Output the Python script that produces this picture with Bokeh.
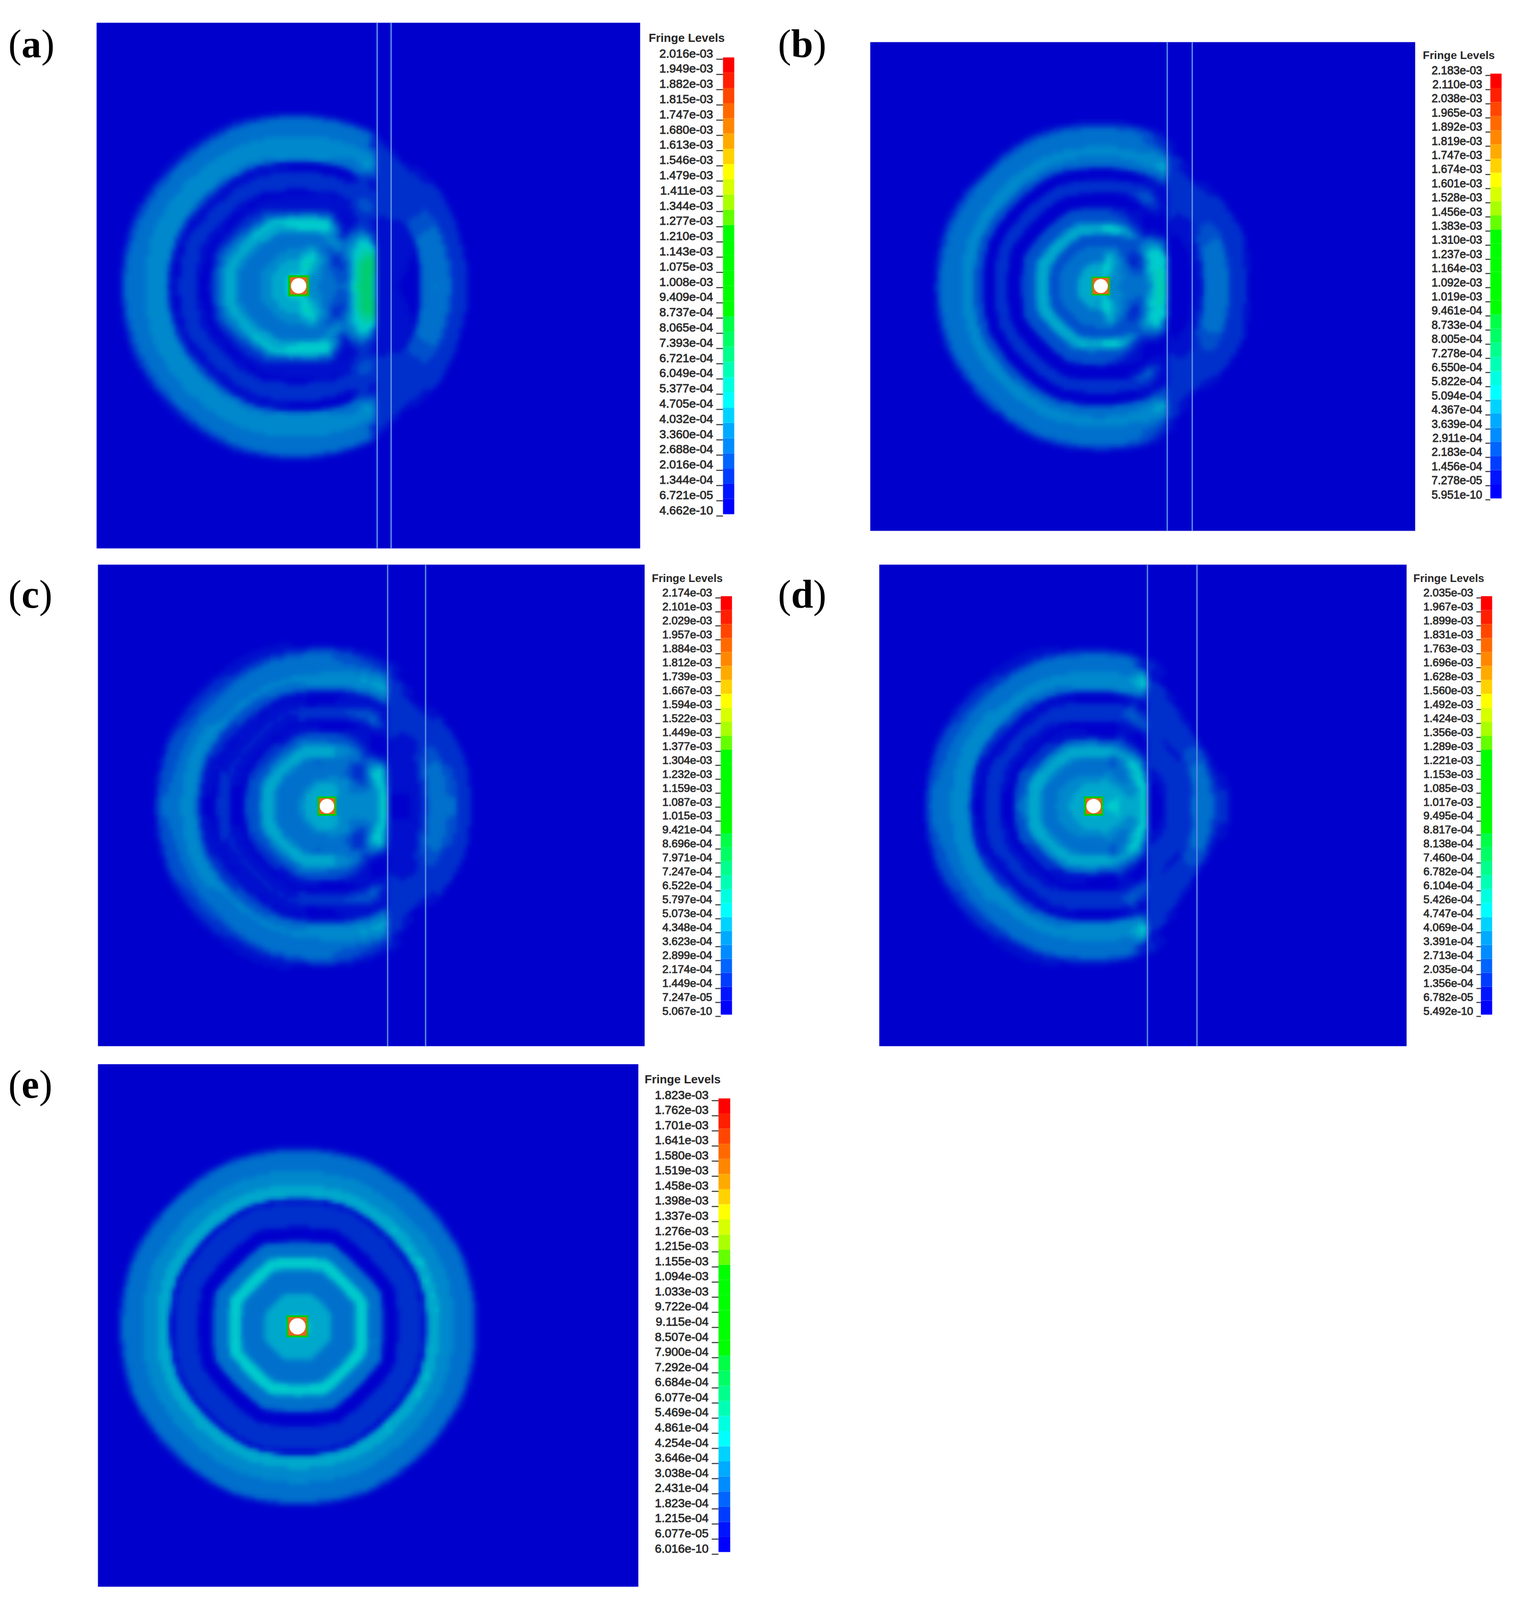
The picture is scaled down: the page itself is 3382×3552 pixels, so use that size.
import numpy as np
from bokeh.embed import file_html
from bokeh.models import Range1d
from bokeh.plotting import figure
from bokeh.resources import INLINE
from bokeh.core.properties import value

# Fringe level tick labels (top to bottom).
LABELS_A = "2.016e-03 1.949e-03 1.882e-03 1.815e-03 1.747e-03 1.680e-03 1.613e-03 1.546e-03 1.479e-03 1.411e-03 1.344e-03 1.277e-03 1.210e-03 1.143e-03 1.075e-03 1.008e-03 9.409e-04 8.737e-04 8.065e-04 7.393e-04 6.721e-04 6.049e-04 5.377e-04 4.705e-04 4.032e-04 3.360e-04 2.688e-04 2.016e-04 1.344e-04 6.721e-05 4.662e-10".split()
LABELS_B = "2.183e-03 2.110e-03 2.038e-03 1.965e-03 1.892e-03 1.819e-03 1.747e-03 1.674e-03 1.601e-03 1.528e-03 1.456e-03 1.383e-03 1.310e-03 1.237e-03 1.164e-03 1.092e-03 1.019e-03 9.461e-04 8.733e-04 8.005e-04 7.278e-04 6.550e-04 5.822e-04 5.094e-04 4.367e-04 3.639e-04 2.911e-04 2.183e-04 1.456e-04 7.278e-05 5.951e-10".split()
LABELS_C = "2.174e-03 2.101e-03 2.029e-03 1.957e-03 1.884e-03 1.812e-03 1.739e-03 1.667e-03 1.594e-03 1.522e-03 1.449e-03 1.377e-03 1.304e-03 1.232e-03 1.159e-03 1.087e-03 1.015e-03 9.421e-04 8.696e-04 7.971e-04 7.247e-04 6.522e-04 5.797e-04 5.073e-04 4.348e-04 3.623e-04 2.899e-04 2.174e-04 1.449e-04 7.247e-05 5.067e-10".split()
LABELS_D = "2.035e-03 1.967e-03 1.899e-03 1.831e-03 1.763e-03 1.696e-03 1.628e-03 1.560e-03 1.492e-03 1.424e-03 1.356e-03 1.289e-03 1.221e-03 1.153e-03 1.085e-03 1.017e-03 9.495e-04 8.817e-04 8.138e-04 7.460e-04 6.782e-04 6.104e-04 5.426e-04 4.747e-04 4.069e-04 3.391e-04 2.713e-04 2.035e-04 1.356e-04 6.782e-05 5.492e-10".split()
LABELS_E = "1.823e-03 1.762e-03 1.701e-03 1.641e-03 1.580e-03 1.519e-03 1.458e-03 1.398e-03 1.337e-03 1.276e-03 1.215e-03 1.155e-03 1.094e-03 1.033e-03 9.722e-04 9.115e-04 8.507e-04 7.900e-04 7.292e-04 6.684e-04 6.077e-04 5.469e-04 4.861e-04 4.254e-04 3.646e-04 3.038e-04 2.431e-04 1.823e-04 1.215e-04 6.077e-05 6.016e-10".split()

# Legend colours, bottom to top.
BAR_RGB = [(0,0,255),(0,20,255),(0,60,255),(0,100,255),(0,140,255),(0,170,255),(0,210,255),(0,255,255),
           (0,255,225),(0,255,180),(0,255,140),(0,255,100),(0,255,70),(0,255,0),(0,255,0),(0,255,0),
           (0,255,0),(0,255,0),(0,255,0),(100,255,0),(170,255,0),(215,255,0),(255,255,0),(255,210,0),
           (255,170,0),(255,135,0),(255,105,0),(255,70,0),(255,30,0),(255,0,0)]

# Fringe level (0-29) against distance from the source, read along rays of the picture.
# Each ray: angle from +x -> [(radius in crop units, level), ...].  Field is mirrored about the axis.
A_LEFT = {
 0:  [(0,6),(60,5),(100,4),(170,3.5),(210,4),(228,7),(250,9.5),(300,10.3),(320,8),(335,6)],
 20: [(0,6),(70,5),(110,4.5),(150,3.5),(190,2.5),(220,3.5),(245,7),(270,9.5),(315,10),(340,8),(360,6)],
 35: [(0,6),(90,5),(150,3.5),(190,1.5),(225,3),(265,5),(310,7),(350,6),(385,2),(410,1)],
 50: [(0,6),(60,6),(100,6),(150,5.5),(200,3),(240,5.5),(265,3),(300,1),(350,.4),(395,2),(445,3.6),(490,2),(520,1.5)],
 60: [(0,7),(100,7),(150,5.5),(200,3.5),(250,5.5),(285,6),(310,2.5),(345,.4),(395,.8),(440,2),(500,1.5),(540,2.5),(590,6),(625,5),(665,3)],
 65: [(0,7),(60,7),(105,8.5),(150,6.5),(190,4),(225,4),(250,7),(285,7.5),(310,4),(340,1),(400,.5),(425,2),(470,2),(490,.5),(525,.5),(540,4),(625,5),(645,4),(705,3.6),(735,0)],
 90: [(0,7),(60,6.5),(100,6),(140,5),(175,4),(225,4),(240,6.5),(285,7),(300,4),(330,1),(400,.4),(420,2),(478,2),(495,.4),(525,.5),(538,5),(630,5),(650,4),(710,3.8),(745,0)],
 180:[(0,7),(60,6.5),(100,6),(140,5),(185,4),(250,4),(280,6),(315,6),(350,3.5),(385,.4),(425,.4),(445,2),(500,2),(525,.3),(550,1),(565,5),(650,5),(665,4),(735,3.8),(770,0)],
}
A_RIGHT = {
 0:  [(0,1),(400,1),(420,.5),(510,.3),(522,4),(590,4.6),(605,4),(640,3.8),(660,2),(710,2),(735,0)],
 20: [(0,1),(420,.7),(515,.5),(530,3.8),(610,4),(630,3.8),(650,2),(700,2),(725,0)],
 35: [(0,1),(440,1),(480,1.5),(560,2),(710,2),(735,0)],
 50: [(0,1.6),(520,2),(670,2),(700,0)],
 65: [(0,2),(700,2),(730,0)],
 180:[(0,2),(700,2),(730,0)],
}
B_LEFT = {
 0:  [(0,5.5),(60,5),(90,4),(158,4),(218,4.5),(232,6.5),(250,8.5),(280,8.5),(290,7)],
 20: [(0,5.5),(60,5),(100,4.5),(150,3.5),(190,3.2),(212,6.5),(260,7.5),(300,6.5),(310,4)],
 35: [(0,5.5),(90,5),(150,3),(180,1),(215,2.5),(245,6.5),(300,6.5),(335,3),(355,1)],
 50: [(0,5.5),(80,5.5),(140,4.5),(180,2.5),(230,2.5),(270,3),(320,.3),(345,.2),(400,.5),(450,.5)],
 62: [(0,6),(60,6.5),(120,6),(180,3),(230,3.5),(260,6),(280,3),(320,.8),(380,.4),(425,3.8),(460,2),(500,.5),(530,3),(585,6),(625,5),(660,2),(700,0)],
 75: [(0,7),(50,7),(95,7.5),(150,6),(185,3.5),(225,3.5),(240,6.5),(265,7),(285,3.5),(340,1.5),(355,.3),(410,.3),(420,1.8),(467,1.8),(475,.3),(515,.3),(530,4),(600,5),(630,4),(700,3.4),(735,0)],
 90: [(0,7),(45,5.5),(100,5.5),(115,4),(175,4),(185,3),(222,3),(240,6.5),(265,6.5),(285,3.5),(340,3),(355,.3),(407,.3),(418,1.8),(467,1.8),(475,.3),(515,.3),(530,3.5),(600,5),(635,4),(695,3.6),(735,0)],
 180:[(0,7),(45,5.5),(100,5.5),(115,4),(175,4),(185,3),(222,3),(240,6.5),(278,6.5),(295,3.5),(345,3),(355,.3),(407,.3),(418,1.8),(467,1.8),(475,.3),(517,.3),(527,2.5),(558,3),(567,5),(605,5),(637,3.6),(707,3.6),(745,0)],
}
B_RIGHT = {
 0:  [(0,.3),(400,.5),(450,1.5),(460,3.8),(558,4),(568,2),(630,2),(650,0)],
 20: [(0,.3),(400,.5),(450,2),(465,3.8),(555,3.8),(575,2),(650,2),(675,0)],
 35: [(0,.5),(400,.5),(470,1),(500,2),(640,2),(668,0)],
 50: [(0,.5),(420,2),(600,2),(630,0)],
 60: [(0,1.5),(560,2),(650,2),(670,0)],
 65: [(0,2),(600,2),(690,1.5),(720,0)],
 180:[(0,2),(600,2),(690,1.5),(720,0)],
}
C_LEFT = {
 0:  [(0,5.5),(60,5),(150,5),(225,4.5),(240,6.5),(262,8.8),(278,7)],
 20: [(0,5.5),(100,5),(170,4.5),(210,4.5),(230,6),(255,7),(295,4)],
 35: [(0,5.5),(90,5),(150,3.5),(190,2.5),(225,4),(250,7),(300,6.5),(335,1),(345,.5)],
 50: [(0,5.5),(80,5.5),(140,5),(190,1.5),(225,1.5),(265,3),(320,.3),(360,.2),(420,.5),(440,.8)],
 62: [(0,6),(60,6),(120,5),(170,3.5),(220,3.5),(250,4.5),(280,3.5),(330,.8),(385,.5),(430,3.8),(470,2),(510,.5),(530,3.5),(585,6),(625,5),(660,2),(700,0)],
 90: [(0,7),(46,6.5),(90,6),(130,4.5),(165,3.5),(215,3.5),(225,6),(272,6),(290,3.5),(330,3),(340,.3),(387,.3),(397,1.8),(447,1.8),(457,.3),(507,.3),(525,2.5),(547,5),(592,5),(615,3.8),(690,3.6),(735,0)],
 180:[(0,7),(46,5.5),(116,5.5),(130,4),(176,3.5),(226,3.5),(248,6),(291,6),(310,3.5),(366,3),(376,.3),(436,.3),(446,1.8),(496,1.8),(506,.3),(566,.3),(580,2.5),(601,5),(651,5),(675,3.8),(751,3.6),(790,0)],
}
C_RIGHT = {
 0:  [(0,.2),(370,.3),(420,1.5),(450,2.5),(462,3.8),(578,3.8),(590,2),(640,2),(660,0)],
 20: [(0,.5),(380,.8),(420,1.5),(465,3.8),(535,3.8),(550,2.5),(640,2),(668,0)],
 35: [(0,.5),(440,.5),(480,1),(510,2),(640,2),(660,0)],
 50: [(0,1),(420,1.8),(590,2),(618,0)],
 60: [(0,1.5),(500,2),(640,2),(662,0)],
 65: [(0,2),(660,2),(700,1.5),(725,0)],
 180:[(0,2),(660,2),(700,1.5),(725,0)],
}
D_LEFT = {
 0:  [(0,6),(100,7),(150,5.5),(200,5.5),(222,7.5),(246,8.8)],
 15: [(0,6.5),(110,6.5),(160,5.5),(205,5.5),(225,7),(254,7.5)],
 30: [(0,6.5),(110,6.5),(160,5),(190,5),(225,7),(260,6),(284,2)],
 45: [(0,6.5),(100,6),(150,5),(190,3.5),(225,5.5),(255,7.5),(295,5),(320,1),(345,.3)],
 57: [(0,6.5),(100,6),(150,5),(190,3.5),(230,4),(265,6),(300,3),(340,.2),(380,.3),(420,3.5),(470,1.5)],
 68: [(0,7),(50,6.5),(110,6),(170,4.5),(200,3),(225,3.5),(250,6),(280,4),(315,2),(345,.5),(390,1.5),(430,3.8),(465,2.5),(500,.5),(530,3.5),(565,5.5),(590,7.5),(625,6),(655,3)],
 76: [(0,7),(41,6.5),(90,6),(140,4.5),(165,4),(210,4),(227,6),(262,6.5),(280,4),(305,3),(312,.3),(382,.3),(392,2),(462,2),(472,.3),(507,.3),(532,5),(602,5),(617,4),(682,3.8),(722,0)],
 90: [(0,7),(41,6.5),(90,6),(140,4.5),(165,4),(210,4),(227,6),(262,6.5),(280,4),(305,3),(312,.3),(382,.3),(392,2),(462,2),(472,.3),(507,.3),(532,5),(602,5),(617,4),(682,3.8),(722,0)],
 180:[(0,7),(41,6),(100,6),(115,5),(161,5),(181,4),(231,4),(248,6.5),(291,6.5),(305,4),(351,3.5),(361,.3),(416,.3),(426,2),(491,2),(501,.3),(551,.3),(566,5),(641,5),(651,4),(736,3.8),(775,0)],
}
D_RIGHT = {
 0:  [(0,.3),(310,.3),(325,1.5),(430,2),(442,3.8),(538,3.8),(550,2.5),(600,2.3),(622,0)],
 20: [(0,.3),(300,.5),(325,1.5),(440,2),(460,3.8),(520,3.8),(540,2),(575,0)],
 35: [(0,.3),(300,1.5),(400,2),(430,.8),(455,2),(540,2.2),(562,0)],
 50: [(0,1.5),(385,2),(565,2),(588,0)],
 60: [(0,2),(610,2),(632,0)],
 70: [(0,2),(640,2),(690,2.5),(720,0)],
 180:[(0,2),(640,2),(690,2.5),(720,0)],
}
E_ALL = {
 0:  [(0,7),(45,6.5),(84,6),(134,6),(144,4.5),(234,4.5),(250,7),(284,7),(296,4.5),(350,4.5),(364,.3),(414,.3),(424,2),(515,2),(525,.2),(535,.2),(545,6.5),(590,6.5),(598,5),(650,5),(660,4),(730,3.9),(762,0)],
 180:[(0,7),(45,6.5),(84,6),(134,6),(144,4.5),(234,4.5),(250,7),(284,7),(296,4.5),(350,4.5),(364,.3),(414,.3),(424,2),(515,2),(525,.2),(535,.2),(545,6.5),(590,6.5),(598,5),(650,5),(660,4),(730,3.9),(762,0)],
}

# Layout: all positions in picture pixels.
PANELS = [
 dict(letter="a", plot=(214,50,1421,1217), src=(662.6,634), walls=(837,868), crop=1.912, left=A_LEFT, right=A_RIGHT, octa=.5,
      bar=(1605,1630,127,1141), lab=(1583,118,1132), fs=26.5, labels=LABELS_A, title=(1440,83), tag=(18,97), mark=(47,38,17)),
 dict(letter="b", plot=(1932,93,3142,1178), src=(2444,634.6), walls=(2591.5,2647), crop=1.98, left=B_LEFT, right=B_RIGHT, octa=.5,
      bar=(3309,3334,163,1106), lab=(3291,155,1097), fs=25, labels=LABELS_B, title=(3159,122), tag=(1727,97), mark=(42,36,15.5)),
 dict(letter="c", plot=(217,1253,1431,2322), src=(725.5,1789), walls=(860.3,944.6), crop=2.03, left=C_LEFT, right=C_RIGHT, octa=.5,
      bar=(1600,1625,1323,2252), lab=(1581,1315,2244), fs=24.6, labels=LABELS_C, title=(1447,1283), tag=(18,1319), mark=(43,35,16)),
 dict(letter="d", plot=(1952,1253,3123,2322), src=(2428,1789), walls=(2547.5,2657.5), crop=2.03, left=D_LEFT, right=D_RIGHT, octa=.5,
      bar=(3288,3313,1323,2252), lab=(3271,1315,2244), fs=24.6, labels=LABELS_D, title=(3138,1283), tag=(1727,1319), mark=(43,35,16)),
 dict(letter="e", plot=(217,2362,1417,3522), src=(660,2944), walls=None, crop=1.89, left=E_ALL, right=None, octa=.75,
      bar=(1595,1621,2438,3445), lab=(1573,2430,3437), fs=26.5, labels=LABELS_E, title=(1431,2395), tag=(18,2407), mark=(49,41,18)),
]

CELL = 8.0     # finite-element cell of the picture, px
STEP = 3.0     # raster pixel
DIM = 0.8      # the plot shading is darker than the legend


def rays_lookup(r, ang, rays, scale):
    angles = sorted(rays)
    vals = np.stack([np.interp(r, [a / scale for a, _ in rays[k]], [b for _, b in rays[k]], right=0.0)
                     for k in angles])
    idx = np.clip(np.searchsorted(angles, ang, side="right") - 1, 0, len(angles) - 2)
    a0 = np.array(angles)[idx]
    a1 = np.array(angles)[idx + 1]
    t = np.clip((ang - a0) / (a1 - a0), 0, 1)
    ii, jj = np.indices(r.shape)
    return vals[idx, ii, jj] * (1 - t) + vals[idx + 1, ii, jj] * t


def soften(a):
    # the reference is a resampled, slightly blurred screenshot
    b = a.copy()
    b[1:-1, :] = .2 * a[:-2, :] + .6 * a[1:-1, :] + .2 * a[2:, :]
    c = b.copy()
    c[:, 1:-1] = .2 * b[:, :-2] + .6 * b[:, 1:-1] + .2 * b[:, 2:]
    return c


def panel_rgba(pn):
    x0, y0, x1, y1 = pn["plot"]
    cx, cy = pn["src"]
    xs = np.arange(x0, x1 + CELL, CELL)
    ys = np.arange(y0, y1 + CELL, CELL)
    X, Y = np.meshgrid(xs - cx, ys - cy)
    r = np.hypot(X, Y)
    ang = np.degrees(np.arctan2(np.abs(Y), X))
    octa = np.maximum(np.maximum(np.abs(X), np.abs(Y)), (np.abs(X) + np.abs(Y)) / np.sqrt(2))
    a = np.interp(r, [180, 300], [pn["octa"], 0.12])
    re = r * (1 - a) + octa * a
    field = rays_lookup(re, ang, pn["left"], pn["crop"])
    if pn["right"] is not None:
        fr = rays_lookup(re, ang, pn["right"], pn["crop"])
        field = np.where(X + cx >= pn["walls"][0], fr, field)
    lev = np.clip(np.rint(field).astype(int), 0, 29)
    rgb = (np.array(BAR_RGB, dtype=float) * DIM)[lev]
    for c in range(3):
        rgb[:, :, c] = soften(rgb[:, :, c])
    xf = np.arange(x0, x1, STEP)
    yf = np.arange(y0, y1, STEP)
    out = np.zeros((len(yf), len(xf), 4), dtype=np.uint8)
    for c in range(3):
        tmp = np.stack([np.interp(xf, xs, rgb[i, :, c]) for i in range(len(ys))])
        col = np.stack([np.interp(yf, ys, tmp[:, j]) for j in range(len(xf))], axis=1)
        out[:, :, c] = np.clip(np.rint(col), 0, 255).astype(np.uint8)
    out[:, :, 3] = 255
    return out[::-1]  # row 0 at the bottom


p = figure(width=3366, height=3536, output_backend="svg", toolbar_location=None,
           x_range=Range1d(0, 3366), y_range=Range1d(-3536, 0),
           x_axis_type=None, y_axis_type=None, min_border=0,
           background_fill_color="white", border_fill_color="white", outline_line_color=None)
p.grid.visible = False

TEXT = "#262626"
SERIF = "Liberation Serif"
SANS = "Liberation Sans"
WID = {"a": .5, "b": .556, "c": .444, "d": .556, "e": .444}
TAG = 88

for pn in PANELS:
    x0, y0, x1, y1 = pn["plot"]
    cx, cy = pn["src"]
    img = panel_rgba(pn)
    view = img.view(dtype=np.uint32).reshape(img.shape[:2])
    p.image_rgba(image=[view], x=x0, y=-y1, dw=x1 - x0, dh=y1 - y0)

    if pn["walls"]:
        p.segment(x0=list(pn["walls"]), x1=list(pn["walls"]), y0=[-y0, -y0], y1=[-y1, -y1],
                  line_color="#5a8fe6", line_width=3)

    g, o, w = pn["mark"]
    p.rect(x=[cx], y=[-cy], width=g, height=g, fill_color="#00cc00", line_color=None)
    p.rect(x=[cx], y=[-cy], width=o, height=o, fill_color="#e8641e", line_color=None)
    p.circle(x=[cx], y=[-cy], radius=w, fill_color="white", line_color=None)

    bl, br, bt, bb = pn["bar"]
    edges = np.linspace(bb, bt, 31)
    p.quad(left=bl, right=br, bottom=-edges[:-1], top=-edges[1:], line_color=None,
           fill_color=["#%02x%02x%02x" % c for c in BAR_RGB])

    lx, lt, lb = pn["lab"]
    ly = np.linspace(lt, lb, 31)
    tick_off = (lb - lt) / 30 * 0.385
    p.segment(x0=[lx + 7] * 31, x1=[bl] * 31, y0=list(-(ly + tick_off)), y1=list(-(ly + tick_off)),
              line_color="#404040", line_width=2.5)
    p.text(x=[lx] * 31, y=list(-ly), text=pn["labels"], text_align="right", text_baseline="middle",
           text_font=value(SANS), text_font_size="%.1fpx" % pn["fs"], text_color=TEXT,
           text_outline_color="#303030")
    tx, ty = pn["title"]
    p.text(x=[tx], y=[-ty], text=["Fringe Levels"], text_align="left", text_baseline="middle",
           text_font=value(SANS), text_font_style="bold", text_font_size="%.1fpx" % (pn["fs"] * 0.99),
           text_color=TEXT)

    tagx, tagy = pn["tag"]
    p.text(x=[tagx], y=[-tagy], text=["("], text_baseline="alphabetic", text_font=value(SERIF),
           text_font_size="%dpx" % TAG, text_color="black")
    ax = tagx + .333 * TAG
    p.text(x=[ax], y=[-tagy], text=[pn["letter"]], text_baseline="alphabetic", text_font=value(SERIF),
           text_font_style="bold", text_font_size="%dpx" % TAG, text_color="black")
    p.text(x=[ax + WID[pn["letter"]] * TAG], y=[-tagy], text=[")"], text_baseline="alphabetic",
           text_font=value(SERIF), text_font_size="%dpx" % TAG, text_color="black")

open("out.html", "w").write(file_html(p, INLINE))
